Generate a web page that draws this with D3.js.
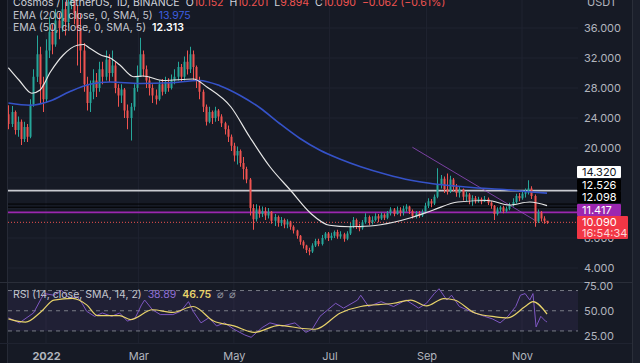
<!DOCTYPE html>
<html>
<head>
<meta charset="utf-8">
<script src="https://cdn.jsdelivr.net/npm/d3@7"></script>
<style>
  body { margin: 0; background: #161a25; }
  svg { display: block; font-family: "Inter", "Noto Sans", sans-serif; }
</style>
</head>
<body>
<svg id="chart" width="640" height="363"></svg>
<script>
// ---- data (days counted from 2022-01-01, one candle every 2 days) ----
const candleDays = d3.range(-24, 321, 2);
const firstOpen = 24.5;
const closes = [
  23.2, 24.8, 22.4, 23.5, 21.2, 22.8, 21.5, 25.8, 29.5, 32.5, 28.5, 26.5,
  33.0, 35.5, 33.8, 37.0, 36.0, 38.5, 36.8, 39.5, 42.0, 38.0, 36.0, 33.0,
  28.5, 26.0, 27.5, 29.0, 28.0, 30.5, 29.5, 31.8, 30.0, 31.0, 28.0, 27.0,
  27.8, 25.0, 24.0, 25.5, 28.0, 29.5, 32.5, 30.5, 29.0, 28.0, 27.0, 26.5,
  28.5, 27.5, 28.8, 28.0, 29.0, 29.5, 30.8, 29.5, 31.5, 30.5, 32.5, 30.8,
  29.0, 27.5, 25.5, 23.5, 24.8, 24.0, 25.0, 24.2, 23.3, 22.5, 21.5, 20.3,
  19.0, 19.6, 18.0, 17.2, 15.8, 12.0, 10.5, 11.8, 11.2, 11.6, 11.0, 11.5,
  10.3, 10.8, 10.0, 10.4, 9.8, 10.2, 9.5, 9.0, 8.3, 7.5, 7.0, 6.4,
  6.2, 7.0, 7.6, 7.2, 8.0, 8.6, 8.0, 8.3, 8.8, 8.2, 8.5, 7.9,
  8.6, 9.6, 10.4, 9.5, 9.3, 10.1, 10.8, 10.1, 10.4, 10.9, 10.6, 11.1,
  10.7, 11.3, 11.8, 11.2, 11.7, 11.4, 11.9, 12.2, 11.6, 10.9, 11.3, 11.0,
  11.5, 12.3, 12.9, 12.6, 13.5, 15.2, 15.9, 14.5, 14.2, 15.8, 14.8, 14.0,
  14.5, 13.5, 13.8, 13.1, 13.3, 13.0, 13.2, 12.9, 13.2, 12.7, 12.3, 11.2,
  11.8, 12.1, 11.6, 11.9, 12.4, 12.8, 13.6, 13.3, 13.9, 14.1, 14.6, 13.6,
  10.2, 11.4, 10.6, 10.3, 10.09
];
const highs = [
  25.7, 25.6, 25.0, 24.2, 23.8, 23.5, 23.2, 26.5, 30.5, 35.0, 33.5, 29.5,
  34.5, 37.5, 36.5, 38.5, 38.0, 41.0, 39.5, 41.5, 44.5, 43.0, 39.0, 38.0,
  34.0, 29.5, 29.0, 30.5, 30.0, 31.5, 31.5, 33.0, 32.5, 33.0, 31.5, 28.5,
  28.5, 28.0, 25.8, 26.0, 28.5, 31.0, 34.7, 33.0, 31.0, 29.5, 28.5, 27.8,
  29.0, 29.2, 29.5, 29.3, 29.8, 30.5, 31.5, 31.2, 32.2, 33.0, 33.5, 33.0,
  31.0, 29.5, 27.8, 25.8, 25.5, 25.0, 25.5, 25.2, 24.5, 23.5, 23.0, 21.8,
  20.7, 20.2, 19.8, 18.8, 17.5, 16.0, 12.5, 12.5, 12.3, 12.2, 12.1, 12.0,
  11.6, 11.2, 11.0, 10.8, 10.6, 10.5, 10.3, 9.7, 9.1, 8.4, 7.7, 7.1,
  6.7, 7.3, 7.9, 7.9, 8.4, 8.8, 8.8, 8.7, 9.0, 9.1, 8.9, 8.7,
  8.9, 10.0, 10.8, 10.6, 9.9, 10.4, 11.3, 11.0, 10.9, 11.3, 11.2, 11.4,
  11.3, 11.6, 12.1, 12.0, 12.2, 12.1, 12.3, 12.5, 12.3, 11.8, 11.6, 11.6,
  11.8, 12.7, 13.3, 13.2, 13.8, 17.3, 16.4, 16.2, 16.6, 16.3, 16.0, 15.2,
  14.9, 14.6, 14.2, 14.0, 13.7, 13.6, 13.5, 13.4, 13.6, 13.4, 12.9, 12.4,
  12.1, 12.3, 12.3, 12.2, 12.7, 13.3, 13.9, 14.0, 14.3, 14.6, 15.7, 14.9,
  13.8, 11.8, 11.6, 10.9, 10.201
];
const lows = [
  22.5, 22.8, 21.8, 21.5, 20.4, 20.8, 20.8, 21.3, 25.5, 28.8, 26.0, 24.8,
  26.0, 32.0, 32.5, 33.5, 34.5, 35.5, 35.0, 36.0, 38.5, 36.5, 31.0, 30.0,
  27.5, 25.0, 24.8, 26.5, 26.8, 27.5, 28.5, 29.0, 28.8, 29.5, 27.3, 25.5,
  26.0, 24.0, 22.5, 21.0, 25.0, 27.5, 29.5, 29.5, 28.0, 27.0, 26.0, 25.8,
  26.3, 27.0, 27.2, 27.5, 27.8, 28.5, 29.0, 28.8, 29.0, 29.8, 30.0, 29.0,
  28.0, 26.5, 24.8, 23.0, 23.3, 23.2, 23.5, 23.6, 22.8, 21.8, 20.8, 19.6,
  18.2, 17.8, 17.5, 15.8, 15.3, 11.0, 9.1, 10.2, 10.7, 10.8, 10.4, 10.6,
  9.9, 9.6, 9.5, 9.6, 9.3, 9.3, 9.1, 8.6, 7.9, 7.1, 6.6, 6.0,
  5.7, 6.0, 6.8, 6.9, 7.0, 7.8, 7.6, 7.7, 8.0, 7.9, 7.9, 7.5,
  7.7, 8.4, 9.3, 9.2, 8.9, 9.1, 9.9, 9.7, 9.8, 10.2, 10.1, 10.4,
  10.4, 10.5, 11.0, 10.9, 11.1, 10.9, 11.0, 11.5, 11.2, 10.6, 10.6, 10.7,
  10.8, 11.3, 12.0, 12.1, 12.4, 13.3, 14.6, 14.0, 13.8, 14.0, 14.2, 13.5,
  13.4, 13.0, 12.9, 12.5, 12.3, 12.6, 12.7, 12.5, 12.8, 12.4, 11.9, 10.4,
  11.0, 11.4, 11.3, 11.4, 11.7, 12.2, 12.6, 12.9, 13.1, 13.4, 13.8, 13.2,
  9.5, 10.0, 10.2, 9.9, 9.894
];

// moving averages
const ema50Days = [-24, -17, -9, -4, 3, 11, 20, 24, 28, 35, 41, 47, 56, 62, 75, 94, 103, 118, 130, 143, 156, 169, 181, 194, 207, 222, 233, 247, 263, 282, 296, 309, 320];
const ema50Vals = [30.7, 29.0, 27.3, 27.7, 30.2, 32.4, 33.7, 33.8, 33.3, 32.4, 32.0, 31.1, 29.5, 29.6, 29.0, 29.2, 28.1, 25.5, 21.5, 17.5, 14.4, 11.3, 9.7, 9.5, 9.6, 10.1, 10.7, 11.7, 12.8, 13.0, 12.4, 12.8, 12.31];
const ema200Days = [-24, -10, 3, 15, 28, 41, 60, 79, 98, 111, 124, 137, 149, 162, 175, 188, 201, 217, 233, 245, 258, 274, 290, 306, 320];
const ema200Vals = [26.0, 25.7, 26.3, 27.5, 28.5, 28.8, 28.6, 28.7, 29.0, 28.3, 27.0, 25.3, 23.3, 21.3, 19.7, 18.5, 17.5, 16.5, 15.7, 15.3, 15.0, 14.7, 14.5, 14.2, 13.98];

// RSI (14) and its SMA (14)
const rsiDays = [-24, -17, -8, -3, -1, 5, 10, 15, 20, 23, 26, 31, 36, 42, 47, 52, 57, 61, 63, 68, 73, 81, 86, 91, 94, 99, 104, 109, 114, 120, 127, 131, 138, 143, 151, 159, 166, 170, 175, 180, 185, 190, 199, 201, 206, 214, 222, 230, 238, 243, 248, 251, 256, 259, 264, 271, 280, 285, 290, 295, 300, 303, 306, 309, 311, 313, 316, 319, 320];
const rsiVals = [43.0, 38.0, 47.8, 62.2, 67.0, 65.4, 70.2, 62.2, 63.8, 57.4, 49.4, 44.5, 47.8, 44.5, 47.8, 39.7, 43.0, 55.8, 60.6, 51.0, 46.2, 46.2, 49.4, 59.0, 49.4, 38.0, 43.0, 34.9, 38.0, 31.7, 26.0, 23.7, 33.3, 38.0, 34.9, 38.0, 28.6, 31.7, 44.5, 51.0, 57.4, 52.6, 60.6, 65.4, 54.2, 59.0, 54.2, 60.6, 52.6, 57.4, 67.0, 71.8, 60.6, 65.4, 54.2, 49.4, 44.5, 42.0, 38.0, 44.5, 54.2, 65.4, 67.0, 60.6, 67.0, 34.0, 44.5, 39.7, 38.89];
const rsiSmaDays = [-24, -13, -3, 5, 17, 26, 33, 47, 54, 68, 81, 94, 107, 120, 133, 149, 164, 172, 188, 201, 222, 233, 243, 254, 261, 274, 287, 295, 306, 311, 320];
const rsiSmaVals = [42.0, 38.8, 49.3, 60.6, 62.2, 55.8, 45.2, 45.2, 41.3, 51.0, 48.4, 54.2, 39.8, 35.0, 28.6, 35.6, 32.4, 31.7, 47.8, 54.2, 57.4, 60.6, 54.8, 62.1, 60.6, 47.8, 44.0, 43.0, 54.2, 59.0, 46.75];

// horizontal price lines and the labels on the price scale
const gridPrices = [4, 8, 12, 16, 20, 24, 28, 32, 36];
const priceTicks = [4, 8, 20, 24, 28, 32, 36];   // 12 and 16 sit under the level labels
const rsiTicks = [25, 50, 75];
const levelPrices = [14.320, 12.526, 12.098, 11.417];
const levelColors = ["#c9cbd1", "#000000", "#000000", "#9c27b0"];
const lastPrice = 10.090;
const monthTicks = ["2022-01-01", "2022-03-01", "2022-05-01", "2022-07-01", "2022-09-01", "2022-11-01"];
const monthLabels = ["2022", "Mar", "May", "Jul", "Sep", "Nov"];

// ---- layout ----
const W = 640, H = 363;
const plotRight = 578;
const bg = "#161a25", grid = "#1f2330", axisText = "#b2b5be";
const up = "#26a69a", down = "#ef5350";

const dayDate = d => new Date(Date.UTC(2022, 0, 1 + d));
const x = d3.scaleUtc()
  .domain([new Date(Date.UTC(2022, 0, 1)), new Date(Date.UTC(2022, 10, 1))])
  .range([46, 522]);
const y = d3.scaleLinear().domain([4, 36]).range([268, 28]);
const yr = d3.scaleLinear().domain([25, 75]).range([336, 285.5]);

const svg = d3.select("#chart");
svg.append("rect").attr("width", W).attr("height", H).attr("fill", bg);

const defs = svg.append("defs");
defs.append("clipPath").attr("id", "main").append("rect")
  .attr("x", 8).attr("y", 0).attr("width", plotRight - 8).attr("height", 282);
defs.append("clipPath").attr("id", "rsi").append("rect")
  .attr("x", 8).attr("y", 283).attr("width", plotRight - 8).attr("height", 60);

// grid
const gGrid = svg.append("g");
gGrid.selectAll(".hg").data(gridPrices).join("line")
  .attr("x1", 8).attr("x2", plotRight)
  .attr("y1", d => y(d)).attr("y2", d => y(d))
  .attr("stroke", grid).attr("stroke-width", 1);
gGrid.selectAll(".vg").data(monthTicks).join("line")
  .attr("x1", d => x(new Date(d))).attr("x2", d => x(new Date(d)))
  .attr("y1", 0).attr("y2", 343)
  .attr("stroke", grid).attr("stroke-width", 1);

// pane borders
svg.append("rect").attr("x", 0).attr("y", 0).attr("width", 7).attr("height", H).attr("fill", "#11141d");
svg.append("line").attr("x1", 7.5).attr("x2", 7.5).attr("y1", 0).attr("y2", H).attr("stroke", "#262a36");
svg.append("line").attr("x1", 0).attr("x2", 632).attr("y1", 282.5).attr("y2", 282.5).attr("stroke", "#2a2e39");
svg.append("rect").attr("x", 632).attr("y", 0).attr("width", 8).attr("height", H).attr("fill", "#1b1f2b");
svg.append("line").attr("x1", 632.5).attr("x2", 632.5).attr("y1", 0).attr("y2", H).attr("stroke", "#2a2e39");

// ---- main pane ----
const main = svg.append("g").attr("clip-path", "url(#main)");

// horizontal levels
main.selectAll(".lvl").data(levelPrices).join("line")
  .attr("x1", 8).attr("x2", plotRight)
  .attr("y1", d => y(d)).attr("y2", d => y(d))
  .attr("stroke", (d, i) => levelColors[i])
  .attr("stroke-width", (d, i) => i === 0 || i === 3 ? 1.6 : 1);
main.append("line")
  .attr("x1", 8).attr("x2", plotRight)
  .attr("y1", y(lastPrice)).attr("y2", y(lastPrice))
  .attr("stroke", down).attr("stroke-width", 1).attr("stroke-dasharray", "1,2");

// trend line
main.append("line")
  .attr("x1", x(dayDate(234))).attr("y1", y(20.1))
  .attr("x2", x(dayDate(312))).attr("y2", y(10.4))
  .attr("stroke", "#9c4dcc").attr("stroke-opacity", 0.75).attr("stroke-width", 1);

// candles
const candles = candleDays.map((d, i) => ({
  t: dayDate(d),
  o: i === 0 ? firstOpen : closes[i - 1],
  c: closes[i], h: highs[i], l: lows[i]
}));
const cg = main.append("g").selectAll("g").data(candles).join("g");
cg.append("line")
  .attr("x1", d => Math.round(x(d.t)) + 0.5).attr("x2", d => Math.round(x(d.t)) + 0.5)
  .attr("y1", d => y(d.h)).attr("y2", d => y(d.l))
  .attr("stroke", d => d.c >= d.o ? up : down).attr("stroke-width", 1);
cg.append("rect")
  .attr("x", d => Math.round(x(d.t)) - 0.5)
  .attr("width", 2)
  .attr("y", d => y(Math.max(d.o, d.c)))
  .attr("height", d => Math.max(1, Math.abs(y(d.o) - y(d.c))))
  .attr("fill", d => d.c >= d.o ? up : down);

// moving averages
const maLine = d3.line().curve(d3.curveMonotoneX);
main.append("path")
  .attr("d", maLine(ema200Days.map((d, i) => [x(dayDate(d)), y(ema200Vals[i])])))
  .attr("fill", "none").attr("stroke", "#3552c8").attr("stroke-width", 1.6);
main.append("path")
  .attr("d", maLine(ema50Days.map((d, i) => [x(dayDate(d)), y(ema50Vals[i])])))
  .attr("fill", "none").attr("stroke", "#e6e6e6").attr("stroke-width", 1.2);

// price axis
const pAxis = svg.append("g").attr("transform", "translate(584,0)")
  .call(d3.axisRight(y).tickValues(priceTicks).tickSize(0).tickPadding(0).tickFormat(d3.format(".3f")));
pAxis.select(".domain").remove();
pAxis.selectAll("text").attr("fill", axisText).attr("font-size", 11).attr("font-family", "Inter, sans-serif");

svg.append("text").attr("x", 587).attr("y", 6).attr("fill", axisText)
  .attr("font-size", 11).text("USDT");

// price scale labels
const lblH = 12;
const labelTops = [166, 179, 191, 204];
const labelFill = ["#ffffff", "#000000", "#000000", "#9c27b0"];
const labelText = ["#131722", "#ffffff", "#ffffff", "#ffffff"];
levelPrices.forEach((p, i) => {
  svg.append("rect").attr("x", 577).attr("y", labelTops[i]).attr("width", 44).attr("height", lblH)
    .attr("fill", labelFill[i]).attr("rx", 1);
  svg.append("text").attr("x", 582).attr("y", labelTops[i] + 10).attr("fill", labelText[i])
    .attr("font-size", 11).text(d3.format(".3f")(p));
});
svg.append("rect").attr("x", 577).attr("y", 216).attr("width", 51).attr("height", 23)
  .attr("fill", "#f23645").attr("rx", 1);
svg.append("text").attr("x", 582).attr("y", 226).attr("fill", "#ffffff").attr("font-size", 11)
  .text(d3.format(".3f")(lastPrice));
svg.append("text").attr("x", 582).attr("y", 237).attr("fill", "#ffd6d9").attr("font-size", 11)
  .text("16:54:34");

// legends
const leg = svg.append("g").attr("font-size", 10.5);
const l1 = leg.append("text").attr("x", 13).attr("y", 6).attr("fill", "#d1d4dc");
l1.append("tspan").text("Cosmos / TetherUS, 1D, BINANCE");
[["O", "10.152"], ["H", "10.201"], ["L", "9.894"], ["C", "10.090"]].forEach(([k, v]) => {
  l1.append("tspan").attr("dx", 6).attr("fill", "#d1d4dc").text(k);
  l1.append("tspan").attr("fill", down).text(v);
});
l1.append("tspan").attr("dx", 6).attr("fill", down).text("\u22120.062 (\u22120.61%)");

const l2 = leg.append("text").attr("x", 13).attr("y", 19).attr("fill", "#c3c6ce");
l2.append("tspan").text("EMA (200, close, 0, SMA, 5)");
l2.append("tspan").attr("dx", 6).attr("fill", "#3d5fe0").text("13.975");
const l3 = leg.append("text").attr("x", 13).attr("y", 31).attr("fill", "#c3c6ce");
l3.append("tspan").text("EMA (50, close, 0, SMA, 5)");
l3.append("tspan").attr("dx", 6).attr("fill", "#ffffff").attr("font-weight", 600).text("12.313");

// ---- RSI pane ----
const rsi = svg.append("g").attr("clip-path", "url(#rsi)");
rsi.append("rect").attr("x", 8).attr("width", plotRight - 8)
  .attr("y", yr(70)).attr("height", yr(30) - yr(70))
  .attr("fill", "#7e57c2").attr("fill-opacity", 0.1);
rsi.selectAll(".rl").data([70, 50, 30]).join("line")
  .attr("x1", 8).attr("x2", plotRight)
  .attr("y1", d => yr(d)).attr("y2", d => yr(d))
  .attr("stroke", "#787b86").attr("stroke-width", 1).attr("stroke-dasharray", "4,4");
rsi.append("path")
  .attr("d", d3.line()(rsiDays.map((d, i) => [x(dayDate(d)), yr(rsiVals[i])])))
  .attr("fill", "none").attr("stroke", "#7e57c2").attr("stroke-width", 1);
rsi.append("path")
  .attr("d", maLine(rsiSmaDays.map((d, i) => [x(dayDate(d)), yr(rsiSmaVals[i])])))
  .attr("fill", "none").attr("stroke", "#e8d36a").attr("stroke-width", 1.2);

const rAxis = svg.append("g").attr("transform", "translate(584,0)")
  .call(d3.axisRight(yr).tickValues(rsiTicks).tickSize(0).tickPadding(0).tickFormat(d3.format(".2f")));
rAxis.select(".domain").remove();
rAxis.selectAll("text").attr("fill", axisText).attr("font-size", 11).attr("font-family", "Inter, sans-serif");

const l4 = svg.append("text").attr("x", 13).attr("y", 298).attr("font-size", 10.5).attr("fill", "#c3c6ce");
l4.append("tspan").text("RSI (14, close, SMA, 14, 2)");
l4.append("tspan").attr("dx", 6).attr("fill", "#8f6fd6").text("38.89");
l4.append("tspan").attr("dx", 6).attr("fill", "#e8d36a").attr("font-weight", 600).text("46.75");
l4.append("tspan").attr("dx", 6).attr("fill", "#9598a1").text("\u2300");
l4.append("tspan").attr("dx", 5).attr("fill", "#9598a1").text("\u2300");

// ---- time axis ----
svg.append("line").attr("x1", 0).attr("x2", 632).attr("y1", 343.5).attr("y2", 343.5).attr("stroke", "#1f2330");
const tAxis = svg.append("g").attr("transform", "translate(0,344)")
  .call(d3.axisBottom(x).tickValues(monthTicks.map(d => new Date(d))).tickSize(0).tickPadding(8)
    .tickFormat((d, i) => monthLabels[i]));
tAxis.select(".domain").remove();
tAxis.selectAll("text").attr("fill", axisText).attr("font-size", 11).attr("font-family", "Inter, sans-serif")
  .attr("font-weight", (d, i) => i === 0 ? 700 : 400);
</script>
</body>
</html>
